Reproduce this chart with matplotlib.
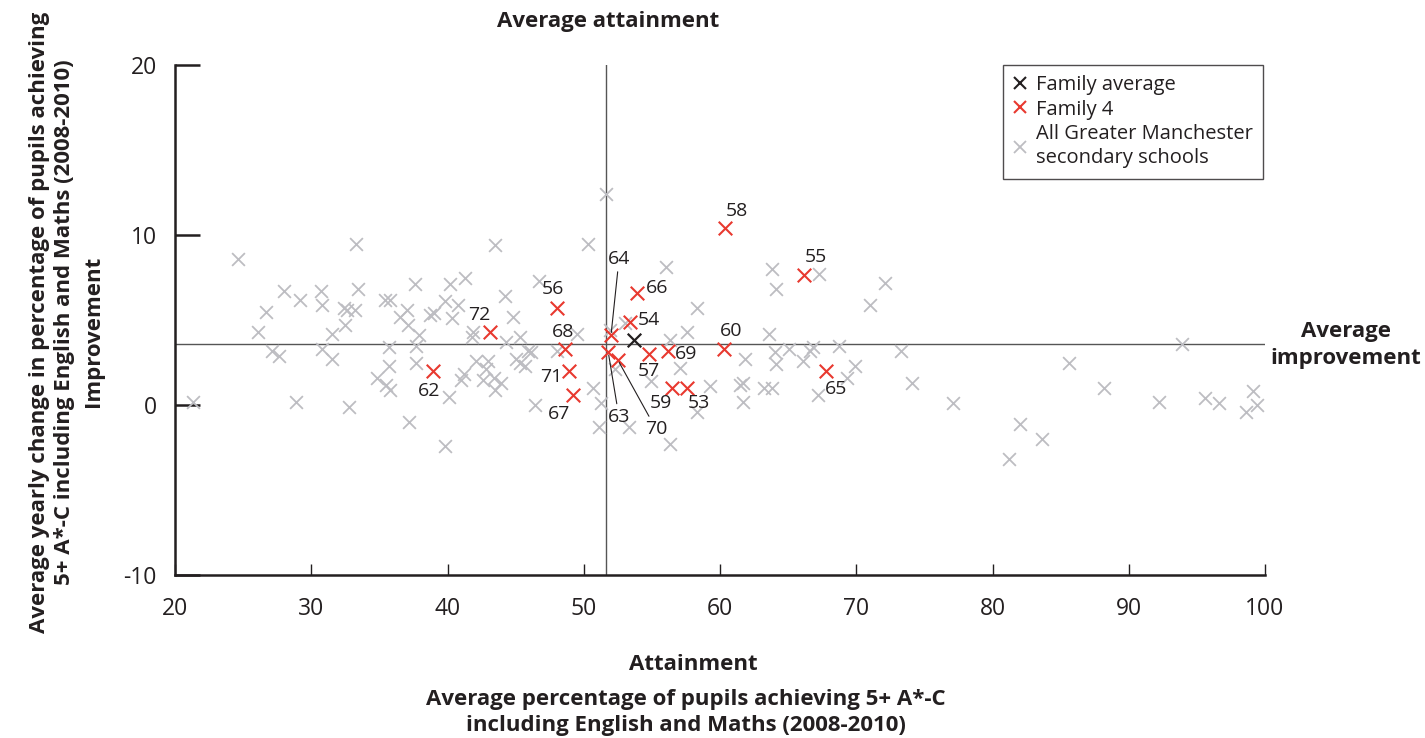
import matplotlib
matplotlib.use("Agg")
import matplotlib.pyplot as plt
from matplotlib.lines import Line2D

plt.rcParams['font.family'] = ['Open Sans', 'DejaVu Sans']

# ---------------- data ----------------
gm_x = [24.6, 33.3, 28.0, 29.2, 30.7, 30.8, 33.4, 26.7, 26.1, 31.5, 32.4, 32.6, 33.2, 32.5,
        35.4, 35.8, 37.6, 40.2, 41.3, 39.8, 37.0, 36.5, 37.1, 38.7, 39.0, 40.3, 40.8, 37.9,
        37.7, 35.7, 30.8, 27.1, 27.6, 31.5, 35.7, 37.7, 34.8, 35.5, 35.8, 41.2, 41.0, 40.1,
        21.3, 28.9, 32.8, 37.2, 39.8,
        43.5, 41.9, 41.8, 42.1, 43.0, 42.6, 43.4, 43.5, 42.8,
        51.6, 50.3, 46.7, 44.2, 44.8, 56.0, 58.3, 63.8, 64.1, 67.3, 71.0, 57.6, 56.3, 45.3,
        44.3, 45.9, 46.1, 45.0, 45.3, 45.7, 49.5, 48.0, 53.0, 51.9, 57.1, 54.9, 52.3, 50.7,
        51.3, 46.4, 51.1, 53.3, 56.3, 58.3, 59.3, 61.5, 61.7, 61.7, 61.8, 63.2, 63.8, 63.6,
        64.0, 64.1, 65.1, 66.1, 66.6, 66.8, 68.7, 67.2, 69.3, 69.9, 43.9,
        72.1, 73.3, 74.1, 77.1, 82.0, 83.6, 81.2, 85.6, 88.2, 92.2, 93.9, 95.6, 96.6, 99.1,
        98.6, 99.4]
gm_y = [8.6, 9.5, 6.7, 6.2, 6.7, 5.9, 6.8, 5.5, 4.3, 4.2, 5.7, 5.6, 5.6, 4.7,
        6.2, 6.2, 7.1, 7.1, 7.5, 6.1, 5.6, 5.2, 4.7, 5.3, 5.4, 5.1, 5.9, 4.1,
        3.5, 3.4, 3.3, 3.2, 2.9, 2.7, 2.3, 2.5, 1.6, 1.2, 0.9, 1.8, 1.5, 0.5,
        0.2, 0.2, -0.1, -1.0, -2.4,
        9.4, 4.3, 4.0, 2.6, 2.6, 1.5, 1.6, 0.9, 2.1,
        12.4, 9.5, 7.3, 6.4, 5.2, 8.1, 5.7, 8.0, 6.8, 7.7, 5.9, 4.3, 3.8, 4.0,
        3.7, 3.2, 3.1, 2.7, 2.5, 2.3, 4.2, 3.2, 4.8, 4.4, 2.2, 1.4, 2.1, 1.0,
        0.1, 0.0, -1.3, -1.3, -2.3, -0.4, 1.1, 1.2, 1.3, 0.2, 2.7, 1.0, 1.0, 4.2,
        3.1, 2.4, 3.3, 2.6, 3.2, 3.4, 3.5, 0.6, 1.6, 2.3, 1.3,
        7.2, 3.2, 1.3, 0.1, -1.1, -2.0, -3.2, 2.5, 1.0, 0.2, 3.6, 0.4, 0.1, 0.8,
        -0.4, 0.0]

fam_labels = ['58', '55', '56', '66', '54', '68', '64', '60', '69', '57',
              '71', '67', '59', '53', '63', '70', '65', '72', '62']
fam_x = [60.4, 66.2, 48.0, 53.9, 53.4, 48.6, 52.0, 60.3, 56.2, 54.8,
         48.9, 49.2, 56.5, 57.6, 51.8, 52.5, 67.8, 43.1, 38.9]
fam_y = [10.4, 7.65, 5.7, 6.6, 4.9, 3.3, 4.1, 3.3, 3.2, 3.0,
         2.0, 0.6, 1.0, 1.0, 3.1, 2.65, 2.0, 4.3, 2.0]

avg_x = [53.7]
avg_y = [3.8]

avg_attainment = 51.6
avg_improvement = 3.6

x_ticks = [20, 30, 40, 50, 60, 70, 80, 90, 100]
y_ticks = [-10, 0, 10, 20]

# label offsets (points) relative to each family point, and which need leader lines
label_offsets = {
    '58': (8.4, 12.7), '55': (8.4, 12.7), '56': (-2.4, 14), '66': (14.4, 3.6),
    '54': (13.2, 1.2), '68': (-1, 12), '60': (5.3, 12.7), '69': (13.2, -2.4),
    '57': (0, -12), '71': (-12.5, -4.1), '67': (-9.6, -13.7), '59': (-8.4, -11.1),
    '53': (8.4, -11.1), '65': (7.2, -13.2), '72': (-7.2, 12), '62': (-2.2, -14.4),
    '64': (5.8, 55.2), '63': (7.7, -46.5), '70': (27.6, -49.9),
}
leader = {'64', '63', '70'}

# ---------------- styling ----------------
GRAY = '#bdbdc2'
RED = '#e8392f'
BLACK = '#231f20'
LINEC = '#555555'
BOLD = 16

W, H = 1425, 738
fig = plt.figure(figsize=(W / 100, H / 100), dpi=100)
ax = fig.add_axes([175 / W, 1 - 575 / H, 1090 / W, 510 / H])

ax.set_xlim(20, 100)
ax.set_ylim(-10, 20)

ax.axvline(avg_attainment, color=LINEC, lw=1.0, zorder=1)
ax.axhline(avg_improvement, color=LINEC, lw=1.0, zorder=1)

ax.scatter(gm_x, gm_y, marker='x', s=85, color=GRAY, linewidths=1.3, zorder=2)
ax.scatter(fam_x, fam_y, marker='x', s=95, color=RED, linewidths=1.5, zorder=3)
ax.scatter(avg_x, avg_y, marker='x', s=95, color=BLACK, linewidths=1.6, zorder=4)

for lab, x, y in zip(fam_labels, fam_x, fam_y):
    dx, dy = label_offsets[lab]
    kw = {}
    if lab in leader:
        kw['arrowprops'] = dict(arrowstyle='-', color=BLACK, lw=0.8,
                                shrinkA=1, shrinkB=2)
    ax.annotate(lab, (x, y), xytext=(dx, dy), textcoords='offset points',
                ha='center', va='center', fontsize=14, color=BLACK, zorder=5, **kw)

for s in ['top', 'right']:
    ax.spines[s].set_visible(False)
for s in ['left', 'bottom']:
    ax.spines[s].set_color(BLACK)
    ax.spines[s].set_linewidth(1.8)

ax.set_xticks(x_ticks)
ax.set_yticks(y_ticks)
ax.set_xticklabels([str(t) for t in x_ticks])
ax.set_yticklabels([str(t) for t in y_ticks])
ax.tick_params(axis='y', direction='in', length=18, width=1.8, color=BLACK,
               labelsize=16.5, pad=13, labelcolor=BLACK)
ax.tick_params(axis='x', direction='in', length=8, width=1.0, color=BLACK,
               labelsize=16.5, pad=16, labelcolor=BLACK)

# legend
handles = [
    Line2D([], [], marker='x', ls='none', color=BLACK, markersize=9, mew=1.5),
    Line2D([], [], marker='x', ls='none', color=RED, markersize=9, mew=1.5),
    Line2D([], [], marker='x', ls='none', color=GRAY, markersize=9, mew=1.3),
]
leg = ax.legend(handles, ['Family average', 'Family 4',
                          'All Greater Manchester\nsecondary schools'],
                loc='upper right', bbox_to_anchor=((1263 - 175) / 1090, 1.0),
                borderaxespad=0, frameon=True, fancybox=False, fontsize=14.5,
                handlelength=0.7, handletextpad=0.45, borderpad=0.5,
                labelspacing=0.22, edgecolor=BLACK)
leg.get_frame().set_linewidth(1.0)
for t in leg.get_texts():
    t.set_color(BLACK)
    t.set_linespacing(1.3)

# titles / axis labels
fig.text(608 / W, 1 - 22 / H, 'Average attainment', ha='center', va='center',
         fontsize=BOLD, fontweight='bold', color=BLACK)
fig.text(1346 / W, 1 - 345 / H, 'Average\nimprovement', ha='center', va='center',
         fontsize=BOLD, fontweight='bold', color=BLACK, linespacing=1.4)
fig.text(52 / W, 1 - 322 / H,
         'Average yearly change in percentage of pupils achieving\n'
         '5+ A*-C including English and Maths (2008-2010)',
         rotation=90, ha='center', va='center', fontsize=BOLD, fontweight='bold',
         color=BLACK, linespacing=1.3)
fig.text(93 / W, 1 - 331 / H, 'Improvement', rotation=90, ha='center', va='center',
         fontsize=BOLD, fontweight='bold', color=BLACK)
fig.text(693 / W, 1 - 665 / H, 'Attainment', ha='center', va='center',
         fontsize=BOLD, fontweight='bold', color=BLACK)
fig.text(686 / W, 1 - 699 / H, 'Average percentage of pupils achieving 5+ A*-C',
         ha='center', va='center', fontsize=BOLD, fontweight='bold', color=BLACK)
fig.text(686 / W, 1 - 726 / H, 'including English and Maths (2008-2010)',
         ha='center', va='center', fontsize=BOLD, fontweight='bold', color=BLACK)

fig.savefig('out.png', dpi=100)
